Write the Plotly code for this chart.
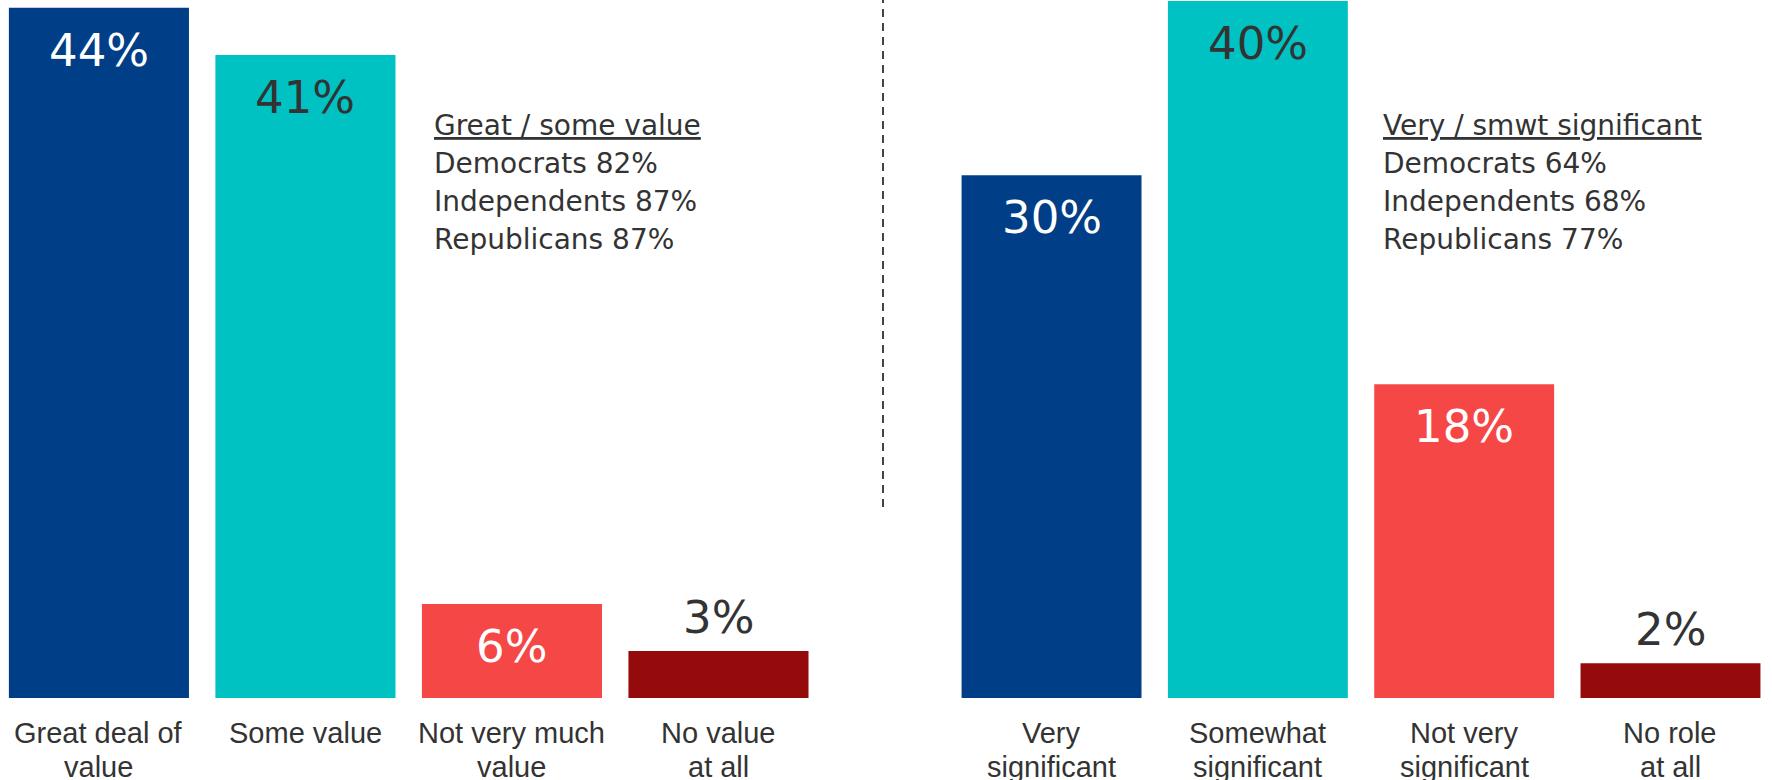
import plotly.graph_objects as go

# ---------------- data ----------------
left_categories = ["Great deal of<br>value", "Some value", "Not very much<br>value", "No value<br>at all"]
left_values = [44, 41, 6, 3]
right_categories = ["Very<br>significant", "Somewhat<br>significant", "Not very<br>significant", "No role<br>at all"]
right_values = [30, 40, 18, 2]

left_note_title = "Great / some value"
left_note_lines = ["Democrats 82%", "Independents 87%", "Republicans 87%"]
right_note_title = "Very / smwt significant"
right_note_lines = ["Democrats 64%", "Independents 68%", "Republicans 77%"]

# ---------------- style ----------------
bar_colors = ["#003F87", "#00C2C2", "#F64747", "#950A0A"]
inside_text_colors = ["#FFFFFF", "#333333", "#FFFFFF", "#FFFFFF"]
outside_text_color = "#333333"
W, H = 1772, 780
MB = 82
VAL_FONT = "DejaVu Sans, Verdana, sans-serif"
CAT_FONT = "Liberation Sans, Arial, sans-serif"

left_range = [0, 44.5]
right_range = [0, 40.06]

fig = go.Figure()
fig.add_trace(go.Bar(x=left_categories, y=left_values, marker=dict(color=bar_colors, line=dict(width=0)),
                     xaxis="x", yaxis="y", hoverinfo="skip"))
fig.add_trace(go.Bar(x=right_categories, y=right_values, marker=dict(color=bar_colors, line=dict(width=0)),
                     xaxis="x2", yaxis="y2", hoverinfo="skip"))

annotations = []


def value_labels(cats, vals, xref, yref, ymax):
    for i, (c, v) in enumerate(zip(cats, vals)):
        inside = v / ymax > 0.1
        if inside:
            annotations.append(dict(x=c, y=v, xref=xref, yref=yref, text=f"{v}%", showarrow=False,
                                    yanchor="top", yshift=-14,
                                    font=dict(family=VAL_FONT, size=45, color=inside_text_colors[i])))
        else:
            annotations.append(dict(x=c, y=v, xref=xref, yref=yref, text=f"{v}%", showarrow=False,
                                    yanchor="bottom", yshift=5,
                                    font=dict(family=VAL_FONT, size=45, color=outside_text_color)))


def category_labels(cats, xref):
    for c in cats:
        for k, line in enumerate(c.split("<br>")):
            annotations.append(dict(x=c, y=0, xref=xref, yref="paper", text=line, showarrow=False,
                                    yanchor="middle", yshift=-(35 + 34 * k),
                                    font=dict(family=CAT_FONT, size=29, color="#333333")))


value_labels(left_categories, left_values, "x", "y", left_range[1])
value_labels(right_categories, right_values, "x2", "y2", right_range[1])
category_labels(left_categories, "x")
category_labels(right_categories, "x2")

plot_h = H - MB
for title, lines, px in [(left_note_title, left_note_lines, 432), (right_note_title, right_note_lines, 1381)]:
    all_lines = ["<u>" + title + "</u>"] + lines
    for k, line in enumerate(all_lines):
        annotations.append(dict(x=px / W, y=1.0, xref="paper", yref="paper",
                                xanchor="left", yanchor="top", align="left", showarrow=False,
                                yshift=-(107 + 38 * k),
                                text=line,
                                font=dict(family=VAL_FONT, size=28, color="#333333")))

axis_common = dict(showgrid=False, zeroline=False, showline=False, ticks="", showticklabels=False,
                   fixedrange=True)
yaxis_common = dict(showgrid=False, zeroline=False, showline=False, showticklabels=False, fixedrange=True)

fig.update_layout(
    width=W, height=H,
    margin=dict(l=0, r=0, t=0, b=MB),
    paper_bgcolor="white", plot_bgcolor="white",
    showlegend=False,
    bargap=0.128,
    xaxis=dict(domain=[0, 830 / W], range=[-0.479, 3.54], **axis_common),
    xaxis2=dict(domain=[890 / W, 1], range=[-0.783, 3.492], **axis_common),
    yaxis=dict(domain=[0, 1], range=left_range, **yaxis_common),
    yaxis2=dict(domain=[0, 1], range=right_range, anchor="x2", **yaxis_common),
    annotations=annotations,
    shapes=[dict(type="line", xref="paper", yref="paper", x0=883 / W, x1=883 / W,
                 y0=(plot_h - 507) / plot_h, y1=1.0,
                 line=dict(color="#444444", width=2, dash="8px,6px"))],
)

fig.write_html("out.html", config={"displayModeBar": False},
               post_script="document.body.style.margin='0';document.body.style.overflow='hidden';")
